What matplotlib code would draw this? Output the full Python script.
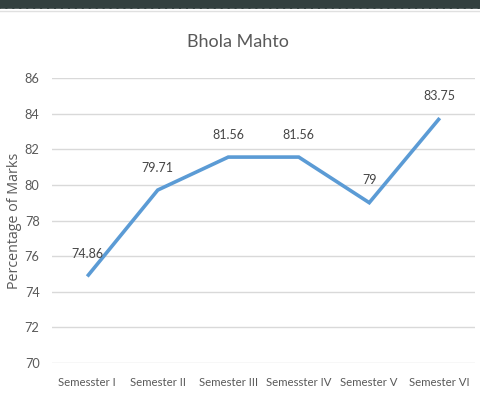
import matplotlib
matplotlib.use("Agg")
import matplotlib.pyplot as plt
from matplotlib.patches import Rectangle
from matplotlib.lines import Line2D

semesters = ["Semesster I", "Semester II", "Semester III",
             "Semesster IV", "Semester V", "Semester VI"]
marks = [74.86, 79.71, 81.56, 81.56, 79, 83.75]
mark_labels = ["74.86", "79.71", "81.56", "81.56", "79", "83.75"]
y_ticks = [70, 72, 74, 76, 78, 80, 82, 84, 86]

W, H = 480, 397
fig = plt.figure(figsize=(W / 100, H / 100), dpi=100)
fig.patch.set_facecolor("white")

body = ["Lato", "DejaVu Sans"]
text_grey = "#595959"

ax = fig.add_axes([52 / W, 1 - 363 / H, (475 - 52) / W, (363 - 78) / H])
x = list(range(len(semesters)))
ax.plot(x, marks, color="#5B9BD5", linewidth=2.6, solid_capstyle="butt",
        solid_joinstyle="miter", zorder=3)

for xi, yi, lab in zip(x, marks, mark_labels):
    ax.annotate(lab, (xi, yi), xytext=(0, 16), textcoords="offset points",
                ha="center", va="center", fontsize=9, color="#454545",
                family=body, zorder=4)

ax.set_xlim(-0.5, len(semesters) - 0.5)
ax.set_ylim(70, 86)
ax.set_yticks(y_ticks)
ax.set_xticks(x)
ax.set_xticklabels(semesters, family=body, fontsize=8.2, color=text_grey)
ax.set_yticklabels([str(v) for v in y_ticks], family=body, fontsize=9.2,
                   color=text_grey)
ax.tick_params(axis="y", length=0, pad=9)
ax.tick_params(axis="x", length=0, pad=10)
ax.grid(axis="y", color="#d9d9d9", linewidth=1)
ax.set_axisbelow(True)
for s in ax.spines.values():
    s.set_visible(False)
ax.set_facecolor("white")

ax.set_ylabel("Percentage of Marks", family=["Open Sans", "DejaVu Sans"],
              fontsize=10.3, color=text_grey)
ax.yaxis.set_label_coords((22 - 52) / (475 - 52), 0.5)

fig.text(238 / W, 1 - 42 / H, "Bhola Mahto", ha="center", va="center",
         fontsize=13, color=text_grey, family=body)

# dark window strip along the top edge
fig.patches.append(Rectangle((0, 1 - 9 / H), 1, 9 / H, transform=fig.transFigure,
                             facecolor="#33403f", edgecolor="none", zorder=10))
fig.lines.append(Line2D([0, 1], [1 - 8.5 / H, 1 - 8.5 / H], transform=fig.transFigure,
                        color="white", linewidth=1.0, linestyle=(0, (3.5, 1.5)),
                        zorder=11))
fig.lines.append(Line2D([0, 1], [1 - 10.5 / H, 1 - 10.5 / H], transform=fig.transFigure,
                        color="#e0e0e0", linewidth=1.0, zorder=11))

fig.savefig("out.png", dpi=100)
